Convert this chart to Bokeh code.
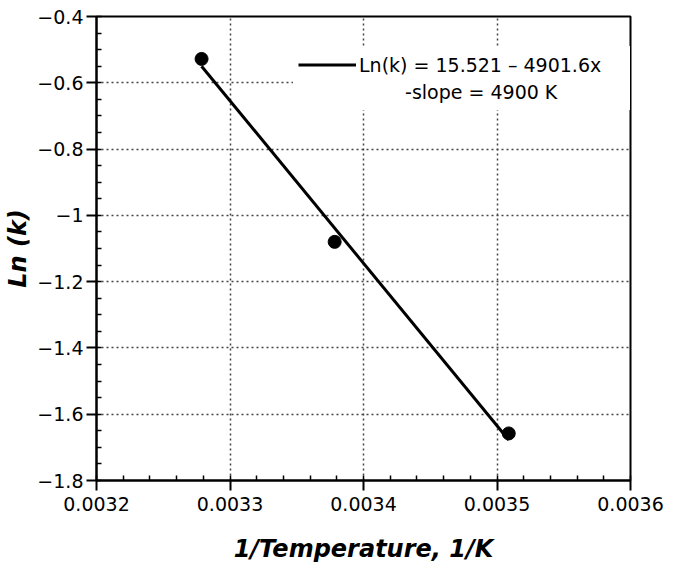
import numpy as np
from bokeh.plotting import figure
from bokeh.models import (Range1d, FixedTicker, CustomJSTickFormatter, Legend,
                          LegendItem)
from bokeh.embed import file_html
from bokeh.resources import INLINE

# ---- data ----
inv_temp = [0.0032787, 0.0033784, 0.0035088]      # 1/K
ln_k = [-0.528, -1.080, -1.658]
fit_intercept = 15.521
fit_slope = -4901.6
fit_label = "Ln(k) = 15.521 \u2013 4901.6x"
slope_label = "-slope = 4900 K"
x_ticks = [0.0032, 0.0033, 0.0034, 0.0035, 0.0036]
y_ticks = [-1.8, -1.6, -1.4, -1.2, -1.0, -0.8, -0.6, -0.4]
x_title = "1/Temperature, 1/K"
y_title = "Ln (k)"

FONT = "DejaVu Sans"

p = figure(width=683, height=565, output_backend="svg", toolbar_location=None,
           x_range=Range1d(x_ticks[0], x_ticks[-1]),
           y_range=Range1d(y_ticks[0], y_ticks[-1]),
           min_border_left=96, min_border_right=53,
           min_border_top=16, min_border_bottom=85)
p.background_fill_color = "white"
p.border_fill_color = "white"
p.outline_line_color = "black"
p.outline_line_width = 2

# regression line over the data range
fx = np.array([min(inv_temp), max(inv_temp)])
fy = fit_intercept + fit_slope * fx
line_r = p.line(fx, fy, line_color="black", line_width=3)
p.scatter(inv_temp, ln_k, size=13, color="black")

# ticks
x_minor = [round(x_ticks[0] + i * 0.00002, 6) for i in range(21)]
y_minor = [round(y_ticks[0] + i * 0.05, 3) for i in range(29)]
p.xaxis.ticker = FixedTicker(ticks=x_ticks, minor_ticks=x_minor)
p.yaxis.ticker = FixedTicker(ticks=y_ticks, minor_ticks=y_minor)
p.xaxis.formatter = CustomJSTickFormatter(code="return tick.toFixed(4);")
p.yaxis.formatter = CustomJSTickFormatter(code="""
    const s = String(parseFloat(Math.abs(tick).toFixed(2)));
    return (tick < -1e-9 ? '\\u2212' : '') + s;
""")

for ax in (p.xaxis, p.yaxis):
    ax.axis_line_width = 2
    ax.axis_line_color = "black"
    ax.major_tick_line_width = 2
    ax.minor_tick_line_width = 1.5
    ax.major_tick_out = 10
    ax.major_tick_in = 0
    ax.minor_tick_in = 5
    ax.minor_tick_out = 0
    ax.major_label_text_font = FONT
    ax.major_label_text_font_size = "19px"
    ax.major_label_text_color = "black"
    ax.axis_label_text_font = FONT
    ax.axis_label_text_font_size = "24px"
    ax.axis_label_text_font_style = "bold italic"
    ax.axis_label_text_color = "black"

p.xaxis.axis_label = x_title
p.yaxis.axis_label = y_title
p.xaxis.major_label_standoff = 6
p.xaxis.axis_label_standoff = 21
p.yaxis.major_label_standoff = 3
p.yaxis.axis_label_standoff = 2

for g in (p.xgrid, p.ygrid):
    g.grid_line_color = "#444444"
    g.grid_line_dash = "2 3"
    g.grid_line_width = 1.5

# legend: equation line with the fit line sample, slope text centred below it
indent = "\u00a0" * 7 + "\u2009"
legend = Legend(items=[LegendItem(label=fit_label, renderers=[line_r]),
                       LegendItem(label=indent + slope_label, renderers=[])],
                location=(197, 370), padding=5, margin=0, spacing=0,
                glyph_width=58, glyph_height=27, label_height=27,
                label_width=266, label_standoff=3,
                label_text_font=FONT, label_text_font_size="19px",
                label_text_color="black",
                background_fill_color="white", background_fill_alpha=1,
                border_line_alpha=0)
p.add_layout(legend)

open("out.html", "w").write(file_html(p, INLINE))
